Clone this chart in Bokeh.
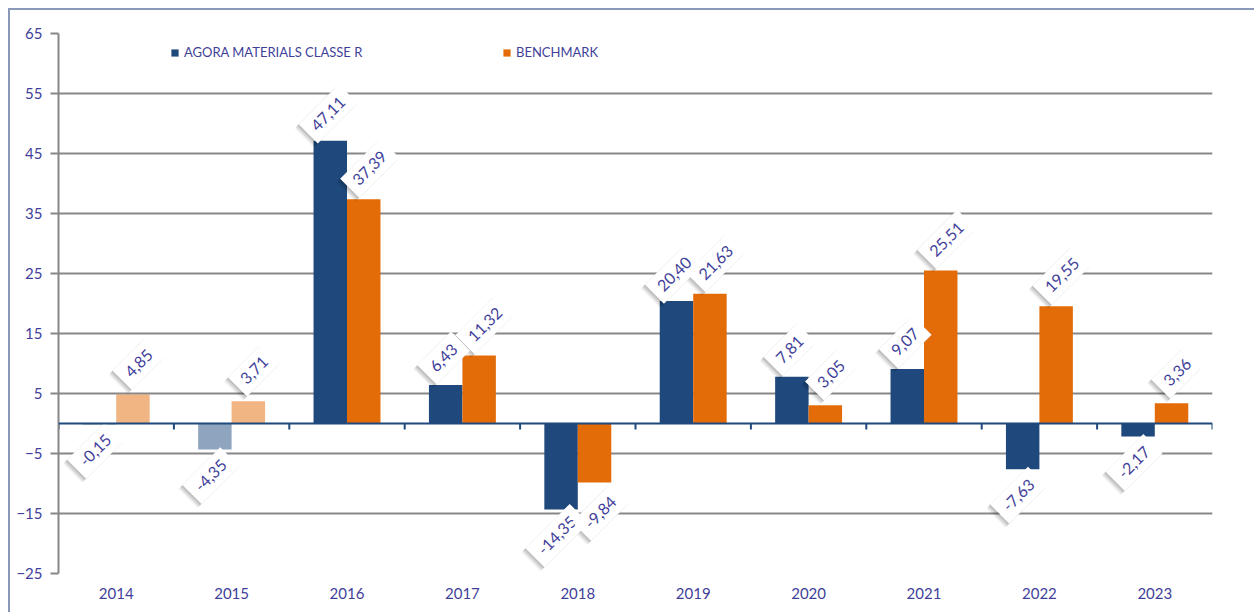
import math
from bokeh.plotting import figure
from bokeh.models import (ColumnDataSource, FactorRange, Range1d, FixedTicker,
                          Legend, LegendItem, Span)
from bokeh.transform import dodge
from bokeh.core.properties import value
from bokeh.embed import file_html
from bokeh.resources import INLINE

# ---------------- data ----------------
years = ["2014", "2015", "2016", "2017", "2018", "2019", "2020", "2021", "2022", "2023"]
agora = [-0.15, -4.35, 47.11, 6.43, -14.35, 20.40, 7.81, 9.07, -7.63, -2.17]
bench = [4.85, 3.71, 37.39, 11.32, -9.84, 21.63, 3.05, 25.51, 19.55, 3.36]
faded = [True, True, False, False, False, False, False, False, False, False]
series_names = ["AGORA MATERIALS CLASSE R", "BENCHMARK"]
y_ticks = [-25, -15, -5, 5, 15, 25, 35, 45, 55, 65]

# ---------------- style ----------------
BLUE = "#1F497D"
ORANGE = "#E36C09"
TXT = "#3F3F9A"
GRID = "#878787"
FONT = "Lato"
BAR_W = 0.29
DODGE = 0.145
LBL_SIZE = "16px"
LBL_PAD = 8

def fmt(v):
    return f"{v:.2f}".replace(".", ",")

alphas = [0.5 if f else 1.0 for f in faded]
src = ColumnDataSource(dict(
    year=years, agora=agora, bench=bench, alpha=alphas,
))

def label_source(vals, offs, sh=0):
    (xp, yp), (xn, yn) = offs
    return ColumnDataSource(dict(
        year=years,
        y=vals,
        text=[fmt(v) for v in vals],
        xo=[(xp if v >= 0 else xn) - sh for v in vals],
        yo=[(yp if v >= 0 else yn) + sh for v in vals],
    ))

p = figure(
    x_range=FactorRange(*years),
    y_range=Range1d(y_ticks[0], y_ticks[-1]),
    width=1246, height=604,
    output_backend="svg", toolbar_location=None,
    min_border_left=48, min_border_right=44,
    min_border_top=23, min_border_bottom=41,
)
p.styles = {"border-top": "2px solid #8A99B8", "border-left": "2px solid #8A99B8",
            "margin-top": "8px", "margin-left": "8px"}
p.outline_line_color = None
p.background_fill_color = "white"
p.border_fill_color = "white"

# grid
p.xgrid.grid_line_color = None
p.ygrid.ticker = FixedTicker(ticks=y_ticks)
p.ygrid.grid_line_color = GRID
p.ygrid.grid_line_width = 2

# y axis
p.yaxis.ticker = FixedTicker(ticks=y_ticks)
p.yaxis.axis_line_color = GRID
p.yaxis.axis_line_width = 2
p.yaxis.major_tick_line_color = GRID
p.yaxis.major_tick_line_width = 2
p.yaxis.major_tick_out = 8
p.yaxis.major_tick_in = 0
p.yaxis.minor_tick_line_color = None
p.yaxis.major_label_standoff = 8
p.yaxis.major_label_text_font = FONT
p.yaxis.major_label_text_font_size = "15px"
p.yaxis.major_label_text_color = TXT

# x axis
p.xaxis.axis_line_color = None
p.xaxis.major_tick_line_color = None
p.xaxis.major_tick_out = 0
p.xaxis.major_label_standoff = 14
p.xaxis.major_label_text_font = FONT
p.xaxis.major_label_text_font_size = "15px"
p.xaxis.major_label_text_color = TXT

# bars
r1 = p.vbar(x=dodge("year", -DODGE, range=p.x_range), top="agora", bottom=0,
            width=BAR_W, source=src, fill_color=BLUE, fill_alpha="alpha",
            line_color=None)
r2 = p.vbar(x=dodge("year", DODGE, range=p.x_range), top="bench", bottom=0,
            width=BAR_W, source=src, fill_color=ORANGE, fill_alpha="alpha",
            line_color=None)

# zero axis line and category boundary ticks
p.add_layout(Span(location=0, dimension="width", line_color=BLUE, line_width=2))
bounds = list(range(len(years) + 1))
p.segment(x0=bounds, x1=bounds, y0=[0] * len(bounds), y1=[-1.0] * len(bounds),
          line_color=BLUE, line_width=2)

# data labels: screen offsets (positive values, negative values) per series
series_lbl = [
    (agora, -DODGE, ((-2, -27), (-4, 26))),
    (bench, DODGE, ((6, -31), (6, 30))),
]
# soft shadows first
for vals, dx, offs in series_lbl:
    xx = dodge("year", dx, range=p.x_range)
    for sh, a in ((4, 0.05), (3, 0.07), (2, 0.08), (1, 0.08)):
        p.text(x=xx, y="y", text="text", source=label_source(vals, offs, sh),
               angle=math.pi / 4, x_offset="xo", y_offset="yo",
               text_align="center", text_baseline="middle",
               text_font=value(FONT), text_font_size=LBL_SIZE, text_alpha=0,
               background_fill_color="black", background_fill_alpha=a,
               padding=LBL_PAD)
# boxed labels
for vals, dx, offs in series_lbl:
    xx = dodge("year", dx, range=p.x_range)
    p.text(x=xx, y="y", text="text", source=label_source(vals, offs),
           angle=math.pi / 4, x_offset="xo", y_offset="yo",
           text_align="center", text_baseline="middle",
           text_font=value(FONT), text_font_size=LBL_SIZE, text_color=TXT,
           background_fill_color="white", background_fill_alpha=1,
           padding=LBL_PAD)

# legends
for name, rend, loc in ((series_names[0], r1, (112, 513)), (series_names[1], r2, (444, 513))):
    lg = Legend(items=[LegendItem(label=name, renderers=[rend], index=2)],
                location=loc, orientation="horizontal",
                border_line_color=None, background_fill_alpha=0,
                padding=0, margin=0, glyph_width=9, glyph_height=9,
                label_standoff=5, label_text_font=FONT,
                label_text_font_size="13px", label_text_color=TXT)
    p.add_layout(lg, "center")

open("out.html", "w").write(file_html(p, INLINE))
